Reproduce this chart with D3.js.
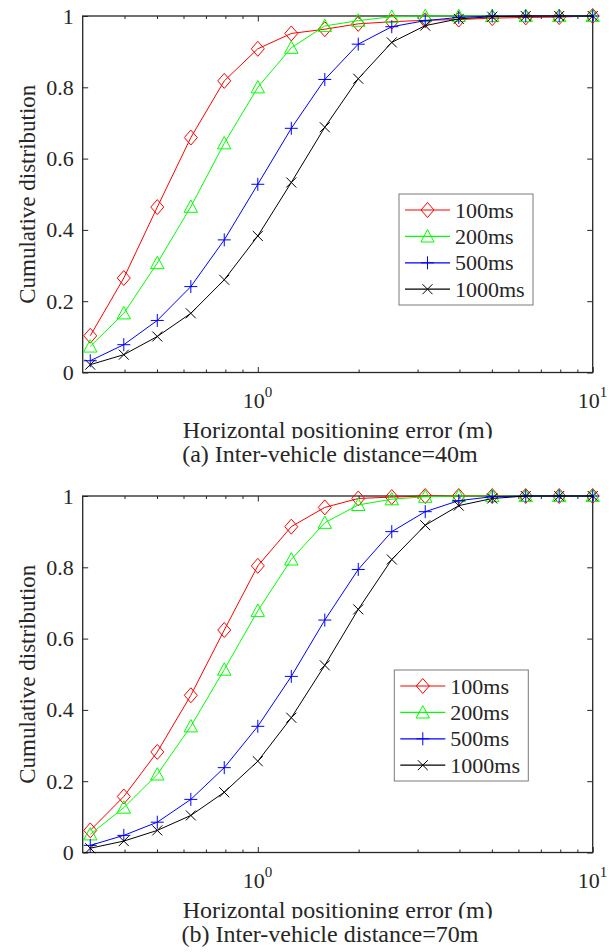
<!DOCTYPE html>
<html>
<head>
<meta charset="utf-8">
<script src="https://cdn.jsdelivr.net/npm/d3@7"></script>
<style>
  body { margin: 0; background: #fff; }
  text { font-family: "Liberation Serif", "Times New Roman", serif; fill: #262626; }
</style>
</head>
<body>
<script>
// horizontal positioning error sample points (m)
const errX = [0.316, 0.398, 0.501, 0.631, 0.794, 1.0, 1.259, 1.585, 1.995, 2.512, 3.162, 3.981, 5.012, 6.310, 7.943, 10.0];
const seriesNames = ['100ms', '200ms', '500ms', '1000ms'];
const seriesColors = ['#ff0000', '#00ff00', '#0000ff', '#000000'];
const seriesMarkers = ['diamond', 'triangle', 'plus', 'cross'];

// (a) inter-vehicle distance 40m
const cdfA100 = [0.103, 0.265, 0.464, 0.659, 0.818, 0.908, 0.951, 0.963, 0.978, 0.984, 0.988, 0.990, 0.994, 0.996, 0.997, 1.0];
const cdfA200 = [0.073, 0.166, 0.307, 0.465, 0.643, 0.800, 0.911, 0.972, 0.987, 0.998, 1.0, 1.0, 1.0, 1.0, 1.0, 1.0];
const cdfA500 = [0.033, 0.078, 0.146, 0.241, 0.372, 0.528, 0.685, 0.822, 0.921, 0.970, 0.987, 0.996, 1.0, 1.0, 1.0, 1.0];
const cdfA1000 = [0.022, 0.050, 0.101, 0.166, 0.260, 0.383, 0.533, 0.688, 0.824, 0.926, 0.973, 0.992, 0.998, 1.0, 1.0, 1.0];

// (b) inter-vehicle distance 70m
const cdfB100 = [0.062, 0.157, 0.282, 0.441, 0.624, 0.804, 0.914, 0.968, 0.993, 0.997, 1.0, 1.0, 1.0, 1.0, 1.0, 1.0];
const cdfB200 = [0.051, 0.126, 0.219, 0.354, 0.513, 0.678, 0.822, 0.925, 0.975, 0.991, 0.998, 1.0, 1.0, 1.0, 1.0, 1.0];
const cdfB500 = [0.020, 0.048, 0.085, 0.149, 0.238, 0.354, 0.494, 0.652, 0.794, 0.900, 0.956, 0.987, 0.998, 1.0, 1.0, 1.0];
const cdfB1000 = [0.012, 0.032, 0.062, 0.104, 0.169, 0.256, 0.378, 0.525, 0.682, 0.822, 0.918, 0.973, 0.993, 1.0, 1.0, 1.0];

const yTicks = [0, 0.2, 0.4, 0.6, 0.8, 1];
const xMajor = [1, 10];
const xMinor = [0.4, 0.5, 0.6, 0.7, 0.8, 0.9, 2, 3, 4, 5, 6, 7, 8, 9];

const width = 616, height = 952;
const left = 82.7, right = 592.7, plotH = 356.5;

const svg = d3.select('body').append('svg')
    .attr('width', width)
    .attr('height', height);

const x = d3.scaleLog().domain([0.3, 10]).range([left, right]);

function markerPath(type, cx, cy) {
  if (type === 'diamond')
    return `M${cx},${cy - 7.5}L${cx + 6.5},${cy}L${cx},${cy + 7.5}L${cx - 6.5},${cy}Z`;
  if (type === 'triangle')
    return `M${cx},${cy - 6.8}L${cx + 6.7},${cy + 5.6}L${cx - 6.7},${cy + 5.6}Z`;
  if (type === 'plus')
    return `M${cx - 6.5},${cy}H${cx + 6.5}M${cx},${cy - 6.5}V${cy + 6.5}`;
  return `M${cx - 5},${cy - 5}L${cx + 5},${cy + 5}M${cx - 5},${cy + 5}L${cx + 5},${cy - 5}`;
}

function drawPanel(top, data, legendPos, caption, id) {
  const bottom = top + plotH;
  const y = d3.scaleLinear().domain([0, 1]).range([bottom, top]);
  const g = svg.append('g');

  // ticks (all inward, MATLAB style)
  const tickStyle = sel => {
    sel.select('.domain').remove();
    sel.selectAll('.tick line').attr('stroke', '#262626').attr('stroke-width', 1);
  };
  g.append('g').attr('transform', `translate(0,${bottom})`)
    .call(d3.axisBottom(x).tickValues(xMajor).tickSizeInner(-5.5).tickSizeOuter(0).tickFormat(''))
    .call(tickStyle);
  g.append('g').attr('transform', `translate(0,${bottom})`)
    .call(d3.axisBottom(x).tickValues(xMinor).tickSizeInner(-3).tickSizeOuter(0).tickFormat(''))
    .call(tickStyle);
  g.append('g').attr('transform', `translate(0,${top})`)
    .call(d3.axisTop(x).tickValues(xMajor).tickSizeInner(-5.5).tickSizeOuter(0).tickFormat(''))
    .call(tickStyle);
  g.append('g').attr('transform', `translate(0,${top})`)
    .call(d3.axisTop(x).tickValues(xMinor).tickSizeInner(-3).tickSizeOuter(0).tickFormat(''))
    .call(tickStyle);
  g.append('g').attr('transform', `translate(${right},0)`)
    .call(d3.axisRight(y).tickValues(yTicks).tickSizeInner(-5.5).tickSizeOuter(0).tickFormat(''))
    .call(tickStyle);
  g.append('g').attr('transform', `translate(${left},0)`)
    .call(d3.axisLeft(y).tickValues(yTicks).tickSizeInner(-5.5).tickSizeOuter(0).tickPadding(9)
      .tickFormat(d => (d === 0 || d === 1) ? d : d.toFixed(1)))
    .call(tickStyle)
    .call(s => s.selectAll('.tick text')
      .attr('font-family', '"Liberation Serif", serif')
      .attr('font-size', 22)
      .attr('fill', '#262626'));

  // box
  g.append('rect')
    .attr('x', left).attr('y', top)
    .attr('width', right - left).attr('height', plotH)
    .attr('fill', 'none').attr('stroke', '#262626').attr('stroke-width', 1.3);

  // x tick labels 10^n
  xMajor.forEach(v => {
    const t = g.append('text')
      .attr('x', x(v) - 15).attr('y', bottom + 35.5)
      .attr('font-size', 22);
    t.append('tspan').text('10');
    t.append('tspan').attr('dy', -11).attr('font-size', 15).text(Math.round(Math.log10(v)));
  });

  // series
  const line = d3.line().x((d, i) => x(errX[i])).y(d => y(d));
  data.forEach((vals, s) => {
    g.append('path')
      .attr('d', line(vals))
      .attr('fill', 'none')
      .attr('stroke', seriesColors[s])
      .attr('stroke-width', 1);
    g.selectAll(null).data(vals).enter().append('path')
      .attr('d', (d, i) => markerPath(seriesMarkers[s], x(errX[i]), y(d)))
      .attr('fill', 'none')
      .attr('stroke', seriesColors[s])
      .attr('stroke-width', 1);
  });

  // legend
  const lg = g.append('g').attr('transform', `translate(${legendPos[0]},${legendPos[1]})`);
  lg.append('rect')
    .attr('width', 134).attr('height', 111)
    .attr('fill', '#fff').attr('stroke', '#7a7a7a').attr('stroke-width', 1);
  seriesNames.forEach((name, s) => {
    const cy = 16 + s * 26.4;
    lg.append('line')
      .attr('x1', 6).attr('x2', 51).attr('y1', cy).attr('y2', cy)
      .attr('stroke', seriesColors[s]).attr('stroke-width', 1.2);
    lg.append('path')
      .attr('d', markerPath(seriesMarkers[s], 28.5, cy))
      .attr('fill', 'none').attr('stroke', seriesColors[s]).attr('stroke-width', 1);
    lg.append('text')
      .attr('x', 56).attr('y', cy + 7.5)
      .attr('font-size', 22)
      .text(name);
  });

  // x label, clipped at the bottom like the source figure
  svg.append('clipPath').attr('id', 'clip' + id)
    .append('rect').attr('x', 0).attr('y', bottom + 40).attr('width', width).attr('height', 26);
  g.append('text')
    .attr('clip-path', `url(#clip${id})`)
    .attr('x', (left + right) / 2).attr('y', bottom + 65)
    .attr('text-anchor', 'middle')
    .attr('font-size', 24)
    .text('Horizontal positioning error (m)');

  // y label
  g.append('text')
    .attr('transform', `translate(35,${(top + bottom) / 2}) rotate(-90)`)
    .attr('text-anchor', 'middle')
    .attr('font-size', 23)
    .text('Cumulative distribution');

  // caption
  g.append('text')
    .attr('x', 330).attr('y', bottom + 89)
    .attr('text-anchor', 'middle')
    .attr('font-size', 24)
    .attr('fill', '#111')
    .text(caption);
}

drawPanel(16, [cdfA100, cdfA200, cdfA500, cdfA1000], [399, 194], '(a) Inter-vehicle distance=40m', 'a');
drawPanel(496, [cdfB100, cdfB200, cdfB500, cdfB1000], [394.3, 670], '(b) Inter-vehicle distance=70m', 'b');
</script>
</body>
</html>
